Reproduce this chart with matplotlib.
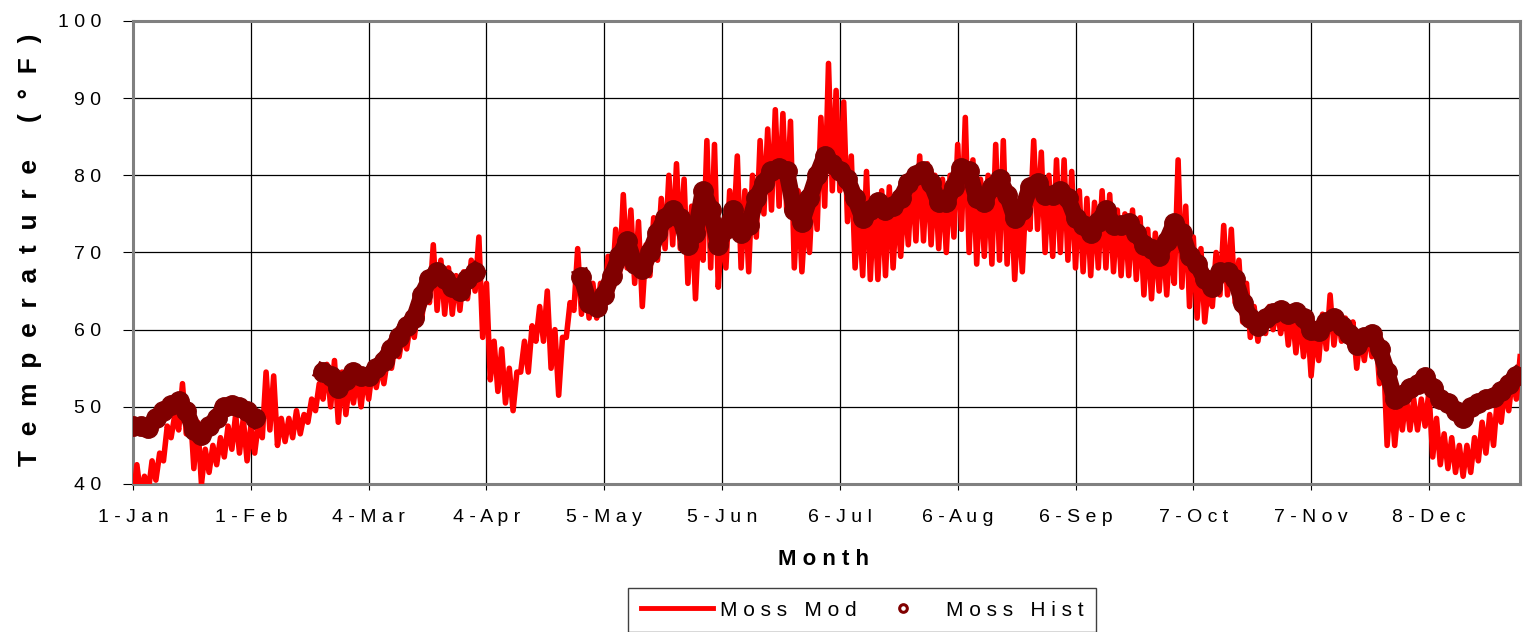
import numpy as np
import matplotlib
matplotlib.use("Agg")
import matplotlib.pyplot as plt
from matplotlib.lines import Line2D

plt.rcParams['font.family'] = ['Liberation Sans', 'DejaVu Sans']

nan = np.nan

# values every 2 days starting 1-Jan (day 0)
mod_lo = [38, 38.5, 39, 40.5, 43, 46, 47, 46.5, 42, 40,
          41.5, 42.5, 43.5, 44.5, 44, 43, 44, 46, 47, 45,
          45.5, 46, 46.5, 48, 49.5, 51, 50, 48, 49, 50.5,
          50, 51, 52.5, 53, 55, 56.5, 57.5, 59, 61.5, 63.5,
          62.5, 62, 62, 62.5, 64, 65, 59, 53.5, 52, 50.5,
          49.5, 54.5, 54.5, 58.5, 58.5, 55, 51.5, 59, 62.5, 62,
          61.5, 61.5, 62.5, 65, 67, 68, 66, 63, 67, 69,
          70.5, 71, 70.5, 66, 64, 69, 68, 65.5, 68, 72.5,
          68, 67.5, 72, 75, 75.5, 76, 75.5, 68, 67.5, 70,
          73, 76, 78, 78, 74, 68, 67, 66.5, 66.5, 67,
          68, 69.5, 71, 71.5, 71.5, 71, 70.5, 70, 72, 73,
          70, 68.5, 69.5, 68.5, 69, 68.5, 66.5, 67.5, 73, 73,
          70, 69.5, 70, 69, 68, 67.5, 67, 68, 68, 67.5,
          67, 67, 66.5, 64.5, 64, 65, 64.5, 66, 65.5, 63,
          61.5, 61, 63, 64.5, 64.5, 63.5, 61, 59, 58.5, 59.5,
          60, 59.5, 58, 57, 56.5, 54, 56, 57.5, 58, 58.5,
          58.5, 55, 56, 56.5, 53, 45, 45, 47, 47, 47,
          47.5, 43.5, 42.5, 42, 41.5, 41, 41.5, 43, 44, 45,
          48, 49.5, 51]

mod_hi = [42.5, 41, 43, 44, 47.5, 49, 53, 50, 48, 44.5,
          45, 46, 47.5, 49, 48.5, 47.5, 48, 54.5, 54, 48.5,
          48.5, 49.5, 49, 51, 53, 55.5, 56, 54.5, 53.5, 54,
          54.5, 55, 55.5, 56.5, 58, 59.5, 61, 63, 66, 71,
          69, 68, 67, 67.5, 69, 72, 66, 58.5, 57.5, 55,
          54.5, 58.5, 60.5, 63, 65, 60, 59, 63.5, 70.5, 67,
          66, 66, 69.5, 73, 77.5, 75.5, 74, 71, 74.5, 77,
          80, 81.5, 79.5, 76, 75, 84.5, 84, 74, 78, 82.5,
          78, 80, 84.5, 86, 88.5, 88, 87, 78, 75.5, 80,
          87.5, 94.5, 91, 89.5, 82.5, 76, 80.5, 77, 78, 78.5,
          77, 78, 80.5, 82.5, 81.5, 80, 79.5, 80, 84, 87.5,
          82, 79.5, 80, 84, 84.5, 78, 76, 78, 84.5, 83,
          80, 82, 82, 80.5, 78, 77, 76.5, 78, 77.5, 75.5,
          75, 75.5, 74.5, 73, 72.5, 72, 72, 82, 76, 72,
          70.5, 66, 70, 73.5, 73, 69, 66, 63, 62, 63,
          63, 63, 62.5, 62, 61.5, 60, 62, 64.5, 62, 61.5,
          61, 59.5, 60, 59.5, 57.5, 52, 50.5, 51.5, 51, 51,
          52, 48.5, 46.5, 46, 45, 45, 46, 48, 49, 51,
          52.5, 54, 56.5]

hist = [47.5, 47.5, 47.2, 48.5, 49.5, 50.2, 50.8, 49.5, 47, 46.3,
        47.5, 48.5, 50, 50.3, 50, 49.5, 48.5, nan, nan, nan,
        nan, nan, nan, nan, nan, 54.5, 54, 52.5, 53.5, 54.5,
        54, 54, 55, 56, 57.5, 59, 60.5, 61.5, 64.5, 66.5,
        67.5, 66.5, 65.5, 65, 66.5, 67.5, nan, nan, nan, nan,
        nan, nan, nan, nan, nan, nan, nan, nan, nan, 66.8,
        63.5, 63, 64.5, 67, 69.5, 71.5, 68.5, 67.8, 70, 72.5,
        74.5, 75.5, 74.5, 71, 72.5, 78, 75.5, 71, 73, 75.5,
        72.5, 73.5, 77, 79, 80.5, 81, 80.5, 75.5, 74, 77,
        80, 82.5, 81.5, 80.5, 79.5, 77, 74.5, 75.5, 76.5, 75.5,
        76, 77, 79, 80, 80.5, 79, 76.5, 76.5, 78.5, 81,
        80.5, 77, 76.5, 78.5, 79.5, 77.5, 74.5, 75.5, 78.5, 79,
        77.5, 77.5, 78, 77, 74.5, 73.5, 72.5, 74, 75.5, 73.5,
        73.5, 73.8, 72.5, 71, 70.5, 69.5, 71.5, 73.8, 72.5, 69.5,
        68.5, 66.5, 65.5, 67.5, 67.5, 66.5, 63.5, 61.5, 60.5, 61.5,
        62.2, 62.5, 62, 62.3, 61.5, 60, 59.8, 61, 61.5, 60.5,
        59.5, 58, 59, 59.5, 57.5, 54.5, 51, 51.5, 52.5, 53,
        53.8, 52.5, 51, 50.5, 49.5, 48.5, 50, 50.5, 51, 51.3,
        52, 53, 54]

tick_days = [0, 31, 62, 93, 124, 155, 186, 217, 248, 279, 310, 341]
tick_labels = ['1-Jan', '1-Feb', '4-Mar', '4-Apr', '5-May', '5-Jun',
               '6-Jul', '6-Aug', '6-Sep', '7-Oct', '7-Nov', '8-Dec']


def spaced(s, gap=' '):
    return gap.join(list(s))


days = 2 * np.arange(len(mod_lo))
mod_x = np.column_stack([days, days + 1]).ravel()
mod_y = np.column_stack([mod_lo, mod_hi]).ravel()

fig = plt.figure(figsize=(15.33, 6.32), dpi=100)
ax = fig.add_axes([0.0868, 0.2342, 0.9048, 0.7326])

ax.plot(mod_x, mod_y, color='#ff0000', lw=4, zorder=3)
ax.plot(days, hist, color='#800000', lw=12, marker='o', ms=14,
        mfc='#800000', mec='#800000', zorder=4)

ax.set_xlim(0, 365)
ax.set_ylim(40, 100)
ax.set_xticks(tick_days)
ax.set_xticklabels([spaced(t) for t in tick_labels], fontsize=14)
ax.set_yticks(range(40, 101, 10))
ax.set_yticklabels([spaced(str(v)) for v in range(40, 101, 10)], fontsize=14)
ax.tick_params(axis='x', length=4, pad=14, color='black')
ax.tick_params(axis='y', length=7, pad=16, color='black')
ax.grid(True, color='black', lw=0.9)
ax.set_axisbelow(True)
for sp in ax.spines.values():
    sp.set_color('#808080')
    sp.set_linewidth(2.2)

fig.text(0.5375, 0.114, spaced('Month'), fontsize=16, fontweight='bold',
         ha='center', va='center')
fig.text(0.0196, 0.605, spaced('Temperature (°F)', '  '), fontsize=19,
         fontweight='bold', rotation=90, ha='center', va='center')

handles = [Line2D([], [], color='#ff0000', lw=3.5),
           Line2D([], [], ls='none', marker='o', mfc='none', mec='#800000',
                  ms=5.5, mew=2.2)]
leg = fig.legend(handles, [spaced('Moss') + '   ' + spaced('Mod'),
                           spaced('Moss') + '   ' + spaced('Hist')],
                 loc='upper center', bbox_to_anchor=(0.5623, 0.0696),
                 borderaxespad=0, ncol=2, fontsize=15, handlelength=3.5,
                 handletextpad=0.3, columnspacing=0.5, borderpad=0.6,
                 fancybox=False, edgecolor='#404040', framealpha=1)
leg.get_frame().set_linewidth(1.0)

fig.savefig('out.png', dpi=100)
